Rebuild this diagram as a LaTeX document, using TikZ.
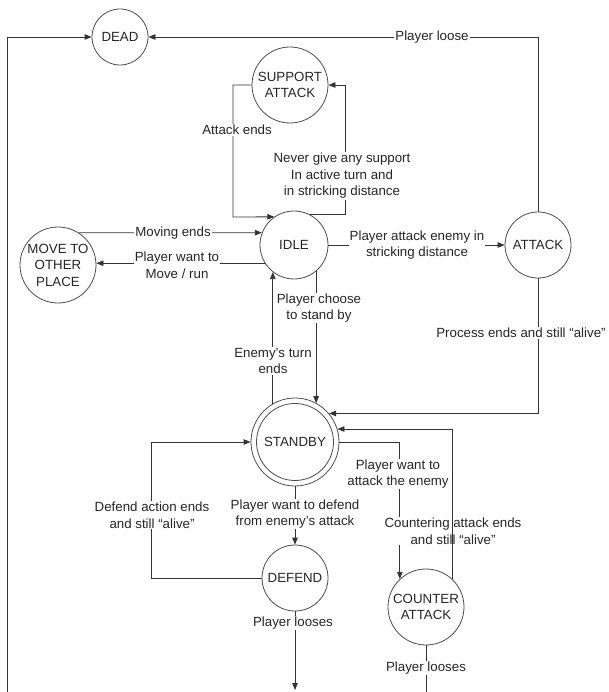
\documentclass[tikz,border=0pt]{standalone}
\usepackage{fontspec}
\setmainfont{Liberation Sans}
\usetikzlibrary{arrows.meta,calc}
\newcommand\lblfont{\fontsize{13.3}{16.5}\selectfont}
\begin{document}
\begin{tikzpicture}[x=1pt,y=-1pt,
  line width=0.8pt, color=black!80,
  state/.style={circle,draw=black!70,line width=0.8pt,inner sep=0pt,align=center,font=\lblfont,text=black!85},
  lbl/.style={fill=white,inner sep=1pt,align=center,font=\lblfont,text=black!85},
  arr/.style={-{Triangle[length=7pt,width=5.5pt]}}]
\useasboundingbox (0,0) rectangle (608,692);

% states
\node[state,minimum size=56pt] (dead) at (120,37) {DEAD};
\node[state,minimum size=76pt] (support) at (290,85) {SUPPORT\\ATTACK};
\node[state,minimum size=68pt] (idle) at (294,245) {IDLE};
\node[state,minimum size=66pt] (attack) at (538,245) {ATTACK};
\node[state,minimum size=76pt] (move) at (58,265) {MOVE TO\\OTHER\\PLACE};
\node[state,minimum size=88pt] (standby) at (295,442) {STANDBY};
\draw[black!70] (standby.center) circle[radius=38.5pt];
\node[state,minimum size=66pt] (defend) at (295,578) {DEFEND};
\node[state,minimum size=76pt] (counter) at (426,607) {COUNTER\\ATTACK};

\coordinate (leftbottom) at (7,692);
\coordinate (defbottom) at (295,690);
\coordinate (cntbottom) at (426,692);

% connectors
\draw[arr] (leftbottom) |- (dead);
\draw[arr] (attack) |- (dead);
\draw[arr] (support.west) -| (233,217) -- (idle.125);
\draw[arr] (idle.62) -| ($(support.east)+(17,0)$) -- (support.east);
\draw[arr] (move.57) -- (idle.159);
\draw[arr] (idle.212) -- (idle.212 -| move.east);
\draw[arr] (idle.east) -- (attack.west);
\draw[arr] (attack.south) |- (standby.40);
\draw[arr] (idle.-50) -- (idle.-50 |- standby.61);
\draw[arr] (standby.120) -- (standby.120 |- idle.232);
\draw[arr] (standby.south) -- (defend.north);
\draw[arr] (defend.west) -| ($(standby.west)+(-99,0)$) -- (standby.west);
\draw[arr] (standby.east) -| (counter.133);
\draw[arr] (defend.south) -- (defbottom);
\draw (counter.south) -- (cntbottom);

% labels
\node[lbl] (lDead) at (432,37) {Player loose};
\node[lbl] (lAtkEnds) at (237,130) {Attack ends};
\node[lbl] (lNever) at (342,176) {Never give any support\\In active turn and\\in stricking distance};
\node[lbl] (lMoveEnds) at (173,233) {Moving ends};
\node[lbl] (lWantMove) at (177,265) {Player want to\\Move / run};
\node[lbl] (lAttack) at (417,245) {Player attack enemy in\\stricking distance};
\node[lbl] (lChoose) at (319,308) {Player choose\\to stand by};
\node[lbl] (lEnemy) at (273,361) {Enemy's turn\\ends};
\node[lbl,anchor=east] (lProcess) at (607,333) {Process ends and still “alive”};
\node[lbl] (lWantAtk) at (398,474) {Player want to\\attack the enemy};
\node[lbl] (lWantDef) at (295,514) {Player want to defend\\from enemy's attack};
\node[lbl] (lDefEnds) at (152,515) {Defend action ends\\and still “alive”};
\node[lbl] (lCntEnds) at (453,531) {Countering attack ends\\and still “alive”};
\node[lbl] (lLoose1) at (293,623) {Player looses};
\node[lbl] (lLoose2) at (426,668) {Player looses};

% drawn over the label
\draw[arr] (counter.47) |- (standby.17);
\end{tikzpicture}
\end{document}
